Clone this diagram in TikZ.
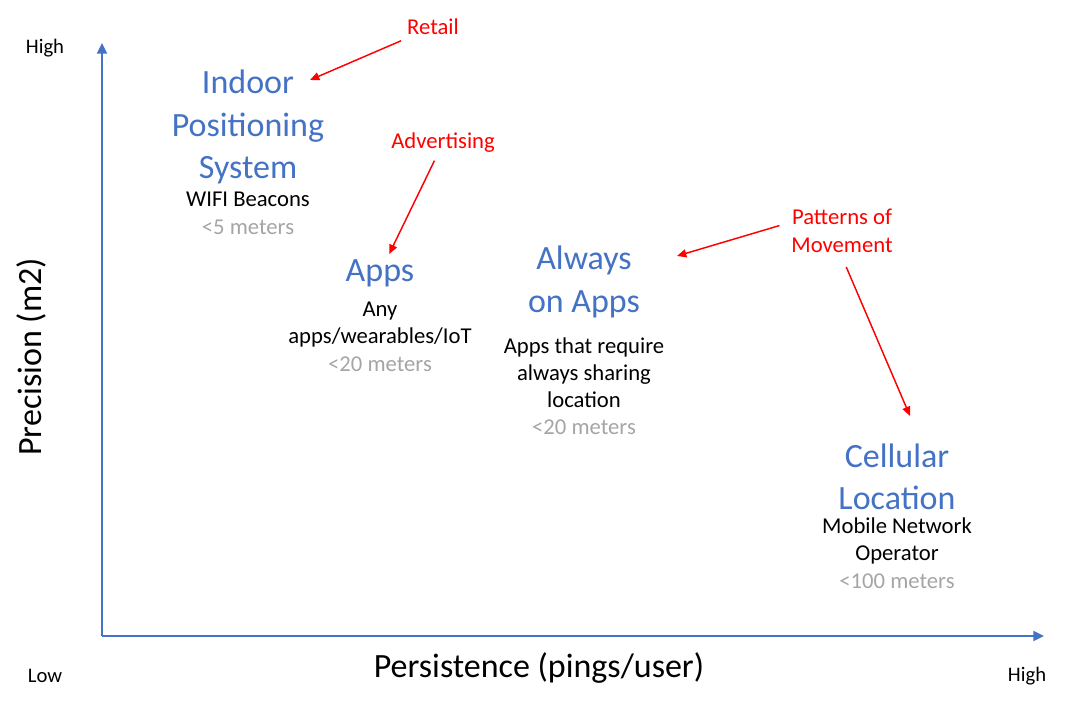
\documentclass[tikz,border=0pt]{standalone}
\usepackage{fontspec}
\setmainfont{Carlito}
\usepackage{xcolor}
\usepackage{tikz}
\usetikzlibrary{arrows.meta, calc, positioning}

\definecolor{titleblue}{RGB}{68,114,196}
\definecolor{axisblue}{RGB}{68,114,196}
\definecolor{rangegray}{RGB}{165,165,165}
\definecolor{tagred}{RGB}{255,0,0}

\begin{document}
\begin{tikzpicture}[x=0.75pt, y=-0.75pt,
    techtitle/.style={text=titleblue, align=center, inner sep=2pt,
        font=\fontsize{25.5}{31.8}\selectfont},
    techdesc/.style={text=black, align=center, inner sep=2pt,
        font=\fontsize{17}{20.3}\selectfont},
    meters/.style={text=rangegray, inner sep=2pt,
        font=\fontsize{17}{20.3}\selectfont},
    usecase/.style={text=tagred, align=center, inner sep=3pt,
        font=\fontsize{17}{21}\selectfont},
    endlabel/.style={font=\fontsize{15.5}{18}\selectfont},
    axislabel/.style={font=\fontsize{25.5}{30}\selectfont},
    axisline/.style={axisblue, line width=1.5pt, -{Triangle[length=8pt, width=7.5pt]}},
    usearrow/.style={tagred, line width=1.1pt, -{Triangle[length=7pt, width=6pt]}}]
\useasboundingbox (0,0) rectangle (1070,706);

% axes
\coordinate (origin) at (102,636);
\coordinate (ytop) at (102,43);
\coordinate (xend) at (1044,636);
\draw[axisline] (origin) -- (ytop);
\draw[axisline] (origin) -- (xend);

\node[endlabel] (yhigh) at (45,48) {High};
\node[endlabel] (xlow) at (45,676) {Low};
\node[endlabel] (xhigh) at (1027,676) {High};
\node[axislabel, rotate=90] (ylab) at (31,357) {Precision (m2)};
\node[axislabel] (xlab) at (539,668) {Persistence (pings/user)};

% indoor positioning
\node[techtitle] (ips) at (248,127) {Indoor\\Positioning\\System};
\node[techdesc] (ipsdesc) at (248,199) {WIFI Beacons};
\node[meters] (ipsrange) at (248,227) {<5 meters};

% apps
\node[techtitle] (apps) at (380,273) {Apps};
\node[techdesc] (appsdesc) at (380,325) {Any\\apps/wearables/IoT};
\node[meters] (appsrange) at (380,364) {<20 meters};

% always on apps
\node[techtitle] (always) at (584,282) {Always\\on Apps};
\node[techdesc] (alwaysdesc) at (584,373) {Apps that require\\always sharing\\location};
\node[meters] (alwaysrange) at (584,427) {<20 meters};

% cellular
\node[techtitle] (cell) at (897,477) {Cellular\\Location};
\node[techdesc] (celldesc) at (897,541) {Mobile Network\\Operator};
\node[meters] (cellrange) at (897,581) {<100 meters};

% use cases
\node[usecase] (retail) at (433,27) {Retail};
\node[usecase] (advert) at (443,143) {Advertising};
\node[usecase] (patterns) at (842,231) {Patterns of\\Movement};

\coordinate (ipsin) at (310,80);
\coordinate (alwaysin) at (677,256);
\coordinate (cellin) at (910,416);

\draw[usearrow, shorten <=3pt] (retail) -- (ipsin);
\draw[usearrow, shorten <=3pt, shorten >=2pt] (advert) -- (apps);
\draw[usearrow, shorten <=6pt] (patterns.172) -- (alwaysin);
\draw[usearrow, shorten <=8pt] (patterns.south) -- (cellin);
\end{tikzpicture}
\end{document}
